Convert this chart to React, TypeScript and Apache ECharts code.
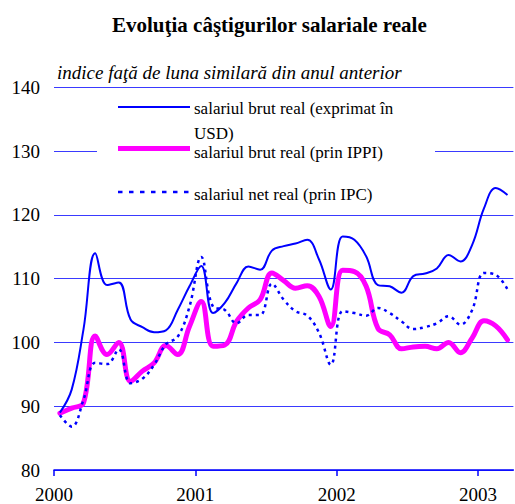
import React, { useEffect, useRef } from "react";
import * as echarts from "echarts";

const title = "Evoluţia câştigurilor salariale reale";
const subtitle = "indice faţă de luna similară din anul anterior";
const startYear = 2000;
const yearTicks = [0, 12, 24, 36];
const seriesNames = [
  "salariul brut real (exprimat în USD)",
  "salariul brut real (prin IPPI)",
  "salariul net real (prin IPC)",
];
// monthly values Jan 2000 – Mar 2003
const usd = [89, 92.6, 102, 114, 109, 109.4, 103.6, 102.4, 101.6, 101.9, 105.1, 108.8, 112, 104.6, 106.2, 109.3, 111.9, 111.4, 114.4, 115.1, 115.5, 116.1, 113, 108.3, 116.6, 116.1, 113.5, 109, 108.8, 107.8, 110.4, 110.8, 111.6, 113.7, 112.7, 115.3, 121, 124.2, 123.1];
const ippi = [88.9, 89.7, 90.5, 101, 98.1, 100, 93.9, 95.5, 96.8, 99.5, 98.1, 102.5, 106.4, 99.4, 99.6, 103.3, 105.4, 106.7, 110.9, 109.7, 108.5, 108.9, 107.2, 102.5, 111.3, 111.1, 108.8, 102.2, 101.2, 99, 99.3, 99.4, 99, 100, 98.4, 100.7, 103.4, 102.6, 100.4];
const ipc = [88.6, 86.8, 91, 96.8, 96.6, 98.9, 93.6, 94.3, 96.5, 99.7, 100.9, 105.6, 113.4, 105.6, 105.1, 103, 104.3, 104.3, 109.2, 106.7, 104.9, 104.2, 101.5, 96.5, 104.9, 104.6, 104.2, 105.4, 104.6, 103.3, 102.1, 102.4, 103, 104.1, 102.8, 105.1, 110.9, 110.6, 108.3];

const FONT = "Liberation Serif";
const BLUE = "#0000ff";
const GRID = "#3a3aff";
const MAGENTA = "#ff00ff";

const toPoints = (arr: number[]) => arr.map((v, i) => [i + 0.5, v]);

export default function App() {
  const ref = useRef<HTMLDivElement>(null);
  useEffect(() => {
    if (!ref.current) return;
    const chart = echarts.init(ref.current, undefined, { renderer: "svg" });
    const legendX0 = 118;
    const legendX1 = 190;
    const textX = 194;
    const legendText = { fontFamily: FONT, fontSize: 17, fill: "#000" };
    chart.setOption({
      animation: false,
      backgroundColor: "#ffffff",
      textStyle: { fontFamily: FONT },
      title: {
        text: title,
        left: 107,
        top: 9,
        textStyle: { fontFamily: FONT, fontSize: 21, fontWeight: "bold", color: "#000" },
      },
      grid: { left: 54, right: 1.6, top: 87.3, bottom: 33.6 },
      xAxis: {
        type: "value",
        min: 0,
        max: usd.length,
        interval: 12,
        axisLine: { show: true, lineStyle: { color: BLUE, width: 1.5 } },
        axisTick: { show: true, length: 6, customValues: yearTicks, lineStyle: { color: BLUE, width: 1.5 } },
        axisLabel: {
          customValues: yearTicks,
          formatter: (v: number) => String(startYear + Math.round(v / 12)),
          color: "#000",
          fontFamily: FONT,
          fontSize: 19,
          margin: 15,
        },
        splitLine: { show: false },
      },
      yAxis: {
        type: "value",
        min: 80,
        max: 140,
        interval: 10,
        axisLine: { show: false },
        axisTick: { show: false },
        axisLabel: { color: "#000", fontFamily: FONT, fontSize: 19, margin: 14 },
        splitLine: { show: true, lineStyle: { color: GRID, width: 1 } },
      },
      series: [
        {
          name: seriesNames[0],
          type: "line",
          data: toPoints(usd),
          smooth: 0.4,
          symbol: "none",
          lineStyle: { color: BLUE, width: 2 },
          z: 3,
        },
        {
          name: seriesNames[1],
          type: "line",
          data: toPoints(ippi),
          smooth: 0.4,
          symbol: "none",
          lineStyle: { color: MAGENTA, width: 5, cap: "round", join: "round" },
          z: 2,
        },
        {
          name: seriesNames[2],
          type: "line",
          data: toPoints(ipc),
          smooth: 0.4,
          symbol: "none",
          lineStyle: { color: BLUE, width: 2.5, type: [3, 4] },
          z: 4,
        },
      ],
      graphic: [
        {
          type: "text",
          x: 57,
          y: 72,
          style: { ...legendText, fontSize: 19, text: subtitle, fontStyle: "italic", verticalAlign: "middle" },
          z: 20,
        },
        {
          type: "rect",
          shape: { x: 97, y: 92, width: 338, height: 117 },
          style: { fill: "#ffffff" },
          z: 10,
        },
        {
          type: "line",
          shape: { x1: legendX0, y1: 107, x2: legendX1, y2: 107 },
          style: { stroke: BLUE, lineWidth: 2 },
          z: 11,
        },
        {
          type: "text",
          x: textX,
          y: 96,
          style: {
            ...legendText,
            text: "salariul brut real (exprimat în\nUSD)",
            lineHeight: 25,
            verticalAlign: "top",
          },
          z: 11,
        },
        {
          type: "line",
          shape: { x1: legendX0, y1: 148.5, x2: legendX1, y2: 148.5 },
          style: { stroke: MAGENTA, lineWidth: 5 },
          z: 11,
        },
        {
          type: "text",
          x: textX,
          y: 152,
          style: { ...legendText, text: seriesNames[1], verticalAlign: "middle" },
          z: 11,
        },
        {
          type: "line",
          shape: { x1: legendX0, y1: 192, x2: legendX1, y2: 192 },
          style: { stroke: BLUE, lineWidth: 2.5, lineDash: [4.5, 6.5] },
          z: 11,
        },
        {
          type: "text",
          x: textX,
          y: 194,
          style: { ...legendText, text: seriesNames[2], verticalAlign: "middle" },
          z: 11,
        },
      ],
    });
    return () => chart.dispose();
  }, []);
  return (
    <div
      ref={ref}
      style={{ position: "absolute", left: 0, top: 0, width: 515, height: 504 }}
    />
  );
}
